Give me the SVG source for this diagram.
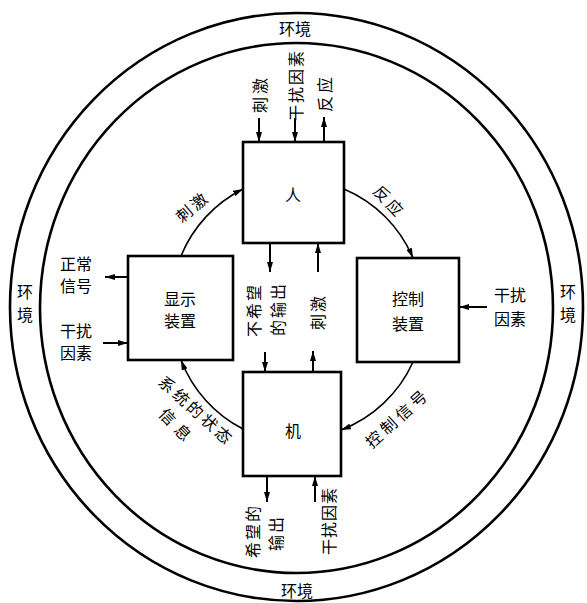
<svg xmlns="http://www.w3.org/2000/svg" width="587" height="603" viewBox="0 0 587 603">
<defs>
<marker id="ah" viewBox="0 0 10 6" refX="10" refY="3" markerWidth="10" markerHeight="6" markerUnits="userSpaceOnUse" orient="auto">
<path d="M0,0 L10,3 L0,6 z" fill="#000"/>
</marker>
<style>
.ring{fill:none;stroke:#000;stroke-width:2.6}
.box{fill:#fff;stroke:#000;stroke-width:2.6}
.arc{fill:none;stroke:#000;stroke-width:1.6;marker-end:url(#ah)}
.stem{stroke:#000;stroke-width:2;marker-end:url(#ah)}
text{font-family:"Noto Sans CJK SC","Noto Sans CJK JP",sans-serif;font-size:16px;fill:#000;text-anchor:middle;dominant-baseline:central}
.sp{letter-spacing:3px}
</style>
</defs>
<rect width="587" height="603" fill="#fff"/>

<g id="environment">
<ellipse class="ring" cx="296.5" cy="307" rx="286.5" ry="294"/>
<ellipse class="ring" cx="296.5" cy="308" rx="256.5" ry="265"/>
<text x="295" y="28">环境</text>
<text x="297" y="590">环境</text>
<text x="25" y="291">环</text>
<text x="25" y="314">境</text>
<text x="568" y="291">环</text>
<text x="568" y="314">境</text>
</g>

<g id="connectors">
<path class="arc" d="M181,256 A130,130 0 0 1 243,189"/>
<path class="arc" d="M344,189 A130,130 0 0 1 413,258"/>
<path class="arc" d="M413,362 A130,130 0 0 1 341,430"/>
<path class="arc" d="M243,429 A130,130 0 0 1 181,360"/>
<line class="stem" x1="259" y1="118" x2="259" y2="142"/>
<line class="stem" x1="295" y1="118" x2="295" y2="142"/>
<line class="stem" x1="324" y1="142" x2="324" y2="117"/>
<line class="stem" x1="270" y1="243" x2="270" y2="272"/>
<line class="stem" x1="265" y1="352" x2="265" y2="372"/>
<line class="stem" x1="313" y1="372" x2="313" y2="351"/>
<line class="stem" x1="318" y1="272" x2="318" y2="243"/>
<line class="stem" x1="267" y1="476" x2="267" y2="502"/>
<line class="stem" x1="315" y1="502" x2="315" y2="476"/>
<line class="stem" x1="128" y1="277" x2="105" y2="277"/>
<line class="stem" x1="103" y1="343" x2="128" y2="343"/>
<line class="stem" x1="487" y1="307" x2="459" y2="307"/>
</g>

<g id="labels">
<text class="sp" transform="translate(192,206) rotate(-40)">刺激</text>
<text class="sp" transform="translate(390,201) rotate(47)">反应</text>
<text style="letter-spacing:4px" transform="translate(397,417) rotate(-42)">控制信号</text>
<text style="letter-spacing:3px" transform="translate(197,410) rotate(42)">系统的状态</text>
<text style="letter-spacing:6px" transform="translate(178,426) rotate(46)">信息</text>
<text class="sp" transform="translate(259,94) rotate(-90)">刺激</text>
<text style="letter-spacing:2px" transform="translate(295,85) rotate(-90)">干扰因素</text>
<text class="sp" transform="translate(324,93) rotate(-90)">反应</text>
<text style="letter-spacing:2px" transform="translate(253,310) rotate(-90)">不希望</text>
<text style="letter-spacing:2px" transform="translate(277,309) rotate(-90)">的输出</text>
<text style="letter-spacing:2px" transform="translate(317,312) rotate(-90)">刺激</text>
<text style="letter-spacing:2px" transform="translate(252,531) rotate(-90)">希望的</text>
<text style="letter-spacing:2px" transform="translate(275,533) rotate(-90)">输出</text>
<text style="letter-spacing:1px" transform="translate(328,521) rotate(-90)">干扰因素</text>
<text x="76" y="263">正常</text>
<text x="76" y="285">信号</text>
<text x="76" y="330">干扰</text>
<text x="76" y="352">因素</text>
<text x="510" y="294">干扰</text>
<text x="510" y="318">因素</text>
</g>

<g id="node-ren">
<rect class="box" x="243" y="142" width="101" height="101"/>
<text x="293" y="194">人</text>
</g>
<g id="node-display">
<rect class="box" x="128" y="256" width="105" height="104"/>
<text x="180" y="298">显示</text>
<text x="180" y="320">装置</text>
</g>
<g id="node-control">
<rect class="box" x="357" y="258" width="102" height="104"/>
<text x="408" y="298">控制</text>
<text x="408" y="323">装置</text>
</g>
<g id="node-ji">
<rect class="box" x="243" y="372" width="98" height="104"/>
<text x="293" y="430">机</text>
</g>
</svg>
